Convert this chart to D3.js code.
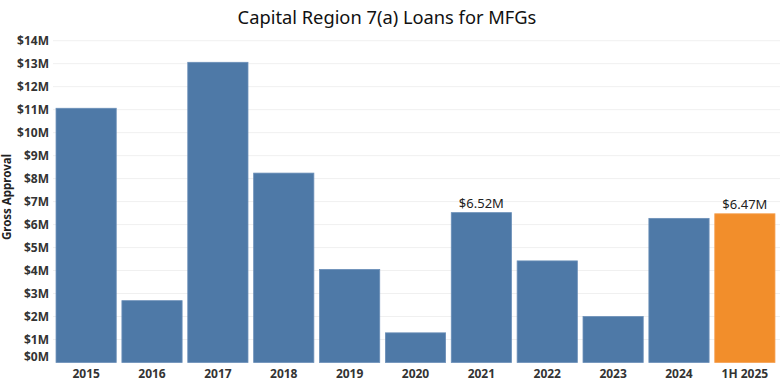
<!DOCTYPE html>
<html>
<head>
<meta charset="utf-8">
<script src="https://cdn.jsdelivr.net/npm/d3@7"></script>
<style>
  body { margin: 0; background: #fff; }
  svg { display: block; }
  text { font-family: "Noto Sans", "Open Sans", sans-serif; }
</style>
</head>
<body>
<svg id="chart" width="780" height="380"></svg>
<script>
const categories = ["2015","2016","2017","2018","2019","2020","2021","2022","2023","2024","1H 2025"];
const values = [11.06, 2.69, 13.06, 8.24, 4.05, 1.29, 6.52, 4.42, 2.00, 6.27, 6.47];
const highlight = ["1H 2025"];
const labeled = {"2021": "$6.52M", "1H 2025": "$6.47M"};
const yTicks = [0,1,2,3,4,5,6,7,8,9,10,11,12,13,14];

const svg = d3.select("#chart");
const W = 780, H = 380;
const yTop = 40.7, yBottom = 362.5;

const x = d3.scaleBand().domain(categories).range([53.2, 777.8])
  .paddingInner(0.086).paddingOuter(0.043);
const y = d3.scaleLinear().domain([0, 14]).range([yBottom, yTop]);

// gridlines
svg.append("g").selectAll("line").data(yTicks.filter(d => d > 0)).join("line")
  .attr("x1", 53).attr("x2", W)
  .attr("y1", d => y(d)).attr("y2", d => y(d))
  .attr("stroke", "#f0f0f0").attr("stroke-width", 1);

// title
svg.append("text").attr("x", 387).attr("y", 24).attr("text-anchor", "middle")
  .attr("font-size", 18.3).attr("fill", "#111").text("Capital Region 7(a) Loans for MFGs");

// y axis
const yAxis = d3.axisLeft(y).tickValues(yTicks).tickSize(0).tickPadding(0)
  .tickFormat(d => "$" + d + "M");
const gy = svg.append("g").attr("transform", "translate(49,0)").call(yAxis);
gy.select(".domain").remove();
gy.selectAll("text").attr("font-size", 12).attr("font-weight", "bold").attr("fill", "#333")
  .attr("font-family", "\"Noto Sans\", sans-serif")
  .attr("dy", "0.35em")
  .attr("y", d => d === 0 ? -6.5 : 0);

// y title
svg.append("text").attr("transform", "translate(11,197) rotate(-90)")
  .attr("text-anchor", "middle").attr("font-size", 11.5).attr("font-weight", "bold")
  .attr("fill", "#222").text("Gross Approval");

// bars
svg.append("g").selectAll("rect").data(categories).join("rect")
  .attr("x", d => x(d)).attr("width", x.bandwidth())
  .attr("y", (d, i) => y(values[i])).attr("height", (d, i) => y(0) - y(values[i]))
  .attr("fill", d => highlight.includes(d) ? "#f28e2b" : "#4e79a7")
  .attr("stroke", d => highlight.includes(d) ? "#f5a052" : "#6b8fb8").attr("stroke-width", 0.8);

// bar labels
svg.append("g").selectAll("text").data(categories.filter(d => labeled[d])).join("text")
  .attr("x", d => x(d) + x.bandwidth() / 2)
  .attr("y", d => y(values[categories.indexOf(d)]) - 5)
  .attr("text-anchor", "middle").attr("font-size", 13).attr("fill", "#222")
  .text(d => labeled[d]);

// x axis
const xAxis = d3.axisBottom(x).tickSize(0).tickPadding(0);
const gx = svg.append("g").attr("transform", `translate(0,${yBottom})`).call(xAxis);
gx.select(".domain").remove();
gx.selectAll("text").attr("font-size", 12).attr("font-weight", "bold").attr("fill", "#333")
  .attr("font-family", "\"Noto Sans\", sans-serif")
  .attr("dy", 0).attr("y", 15);
</script>
</body>
</html>
